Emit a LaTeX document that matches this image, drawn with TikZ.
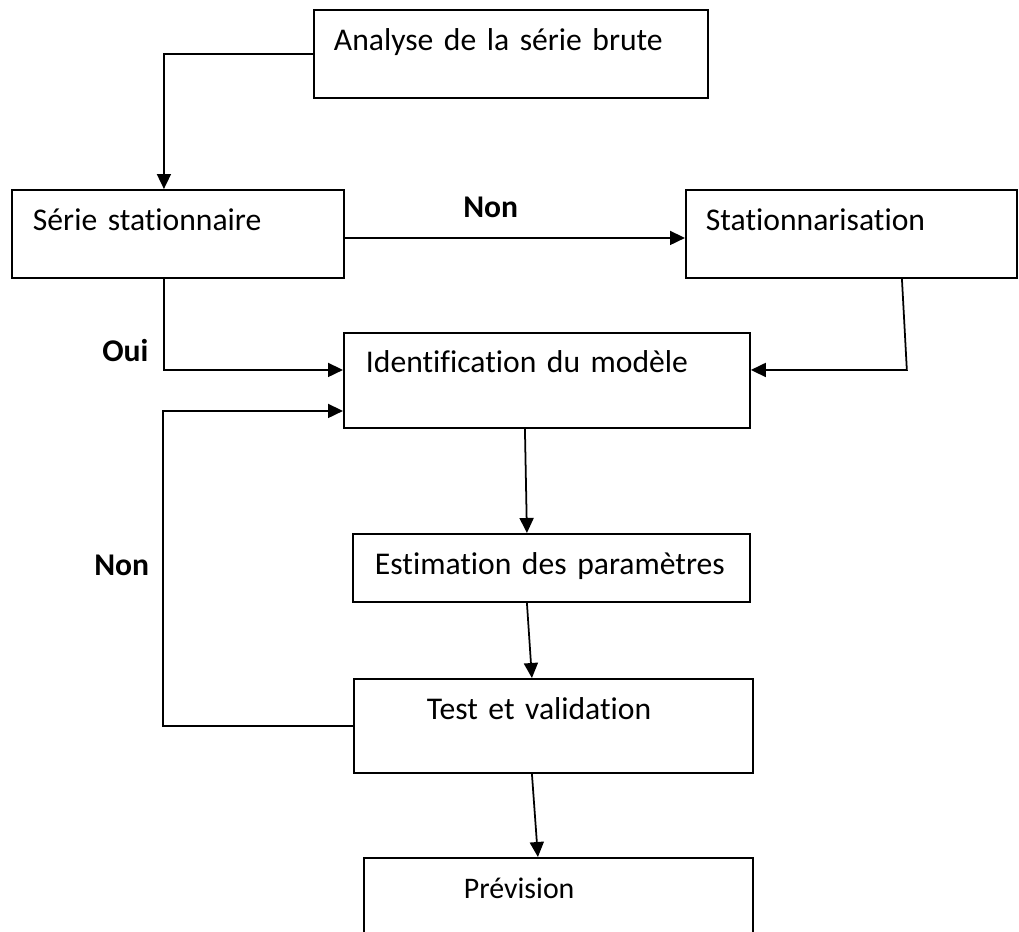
\documentclass[tikz,border=0pt]{standalone}
\usepackage{fontspec}
\setmainfont{Carlito}[Ligatures=NoCommon]
\usetikzlibrary{arrows.meta,positioning,calc}
\tikzset{
  etape/.style={draw=black,line width=1.1pt,anchor=north west,
                align=left,inner ysep=0pt,font=\fontsize{18}{22}\selectfont},
  flowarr/.style={-{Triangle[length=3mm,width=2.8mm]},line width=1pt},
  reponse/.style={anchor=base west,inner sep=0pt,
                  font=\fontsize{18}{22}\selectfont\bfseries}
}

\begin{document}
\begin{tikzpicture}[x=0.02cm,y=-0.02cm]
  \clip (0,0) rectangle (1019,931);

  \node[etape,inner xsep=0.40cm,text width=7.08cm,text height=0.82cm,text depth=0.94cm]
    (analyse) at (313,9) {Analyse de la série brute};
  \node[etape,inner xsep=0.42cm,text width=5.80cm,text height=0.82cm,text depth=0.94cm]
    (serie) at (11,189) {Série stationnaire};
  \node[etape,inner xsep=0.40cm,text width=5.82cm,text height=0.82cm,text depth=0.94cm]
    (station) at (685,189) {Stationnarisation};
  \node[etape,inner xsep=0.44cm,text width=7.24cm,text height=0.80cm,text depth=1.10cm]
    (ident) at (343,332) {Identification du modèle};
  \node[etape,inner xsep=0.44cm,text width=7.06cm,text height=0.82cm,text depth=0.54cm]
    (estim) at (352,533) {Estimation des paramètres};
  \node[etape,inner xsep=1.46cm,text width=5.06cm,text height=0.82cm,text depth=1.06cm]
    (test) at (353,678) {Test et validation};
  \node[etape,inner xsep=2.00cm,text width=3.78cm,text height=0.82cm,text depth=2.00cm,
        font=\fontsize{17}{20}\selectfont]
    (prev) at (363,857) {Prévision};

  \node[reponse] (non1) at (463,217) {Non};
  \node[reponse] (oui) at (102,361) {Oui};
  \node[reponse] (non2) at (94,575) {Non};

  \draw[flowarr] (analyse.west) -| ($(serie.north)+(-14,0)$);
  \draw[flowarr] ($(serie.east)+(0,4)$) -- ($(station.west)+(0,4)$);
  \draw[flowarr] ($(serie.south)+(-14,0)$) |- ($(ident.west)+(0,-10.5)$);
  \draw[flowarr] ($(station.south)+(50.5,0)$) -- ($(ident.east)+(156,-10.5)$)
    -- ($(ident.east)+(0,-10.5)$);
  \draw[flowarr] ($(ident.south)+(-22,0)$) -- ($(estim.north)+(-24.5,0)$);
  \draw[flowarr] ($(estim.south)+(-24.5,0)$) -- ($(test.north)+(-21.5,0)$);
  \draw[flowarr] ($(test.south)+(-21.5,0)$) -- ($(prev.north)+(-20.5,0)$);
  \draw[flowarr] (test.west) -- ++(-190,0) |- ($(ident.west)+(0,30.5)$);
\end{tikzpicture}
\end{document}
